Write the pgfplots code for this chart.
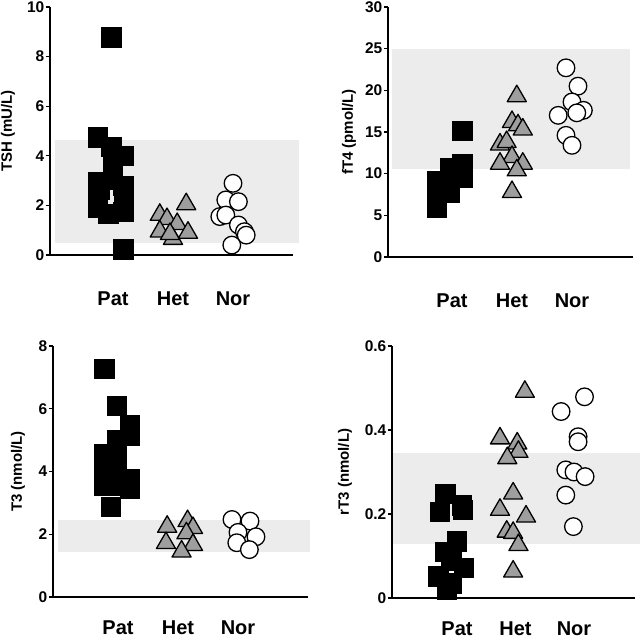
\documentclass[border=0pt]{standalone}
\usepackage{fontspec}
\setmainfont{Liberation Sans}
\usepackage{pgfplots}
\pgfplotsset{compat=1.18}
\definecolor{hetgray}{RGB}{158,158,158}
\definecolor{bandgray}{RGB}{236,236,236}
\pgfplotsset{
  panel/.style={
    scale only axis,
    axis lines=left,
    axis line style={-, line width=1.3pt},
    anchor=south west,
    clip=false,
    ymin=0,
    xtick={1,2,3},
    xticklabels={Pat,Het,Nor},
    x tick style={draw=none},
    y tick style={line width=1.2pt, black},
    tick align=outside,
    major tick length=4pt,
    /pgf/number format/assume math mode=true,
    yticklabel style={font=\bfseries\fontsize{15.5}{15.5}\selectfont, inner sep=1.5pt},
    xticklabel style={font=\bfseries\fontsize{20}{20}\selectfont, anchor=base, inner sep=0pt},
    ylabel style={font=\bfseries\fontsize{15}{15}\selectfont, anchor=center},
  },
  pat/.style={only marks, mark=square*, mark size=9.6pt, mark options={fill=black, draw=black}},
  het/.style={only marks, mark=triangle*, mark size=11pt, mark options={fill=hetgray, draw=black, line width=1.3pt, line join=round}},
  nor/.style={only marks, mark=*, mark size=8.8pt, mark options={fill=white, draw=black, line width=1.3pt}},
  band/.style={draw=none, fill=bandgray, mark=none, forget plot},
}
\begin{document}
\begin{tikzpicture}[x=1pt,y=1pt]
\useasboundingbox (0,0) rectangle (640,640);
\clip (0,0) rectangle (640,640);

% ---------------- TSH ----------------
\begin{axis}[panel,
  at={(50pt,385pt)}, width=243pt, height=248pt,
  xmin=-0.05, xmax=4.0, ymax=10,
  ytick={0,2,4,6,8,10},
  xticklabel style={yshift=-47pt},
  ylabel={TSH (mU/L)},
  ylabel style={at={([xshift=-42pt]axis description cs:0,0.5)}},
]
\addplot[band] coordinates {(0.033,0.48) (4.1,0.48) (4.1,4.62) (0.033,4.62)} -- cycle;
\addplot[pat] coordinates {
 (0.97,8.78) (0.75,4.75) (0.97,4.37) (1.17,4.0) (1.0,3.83)
 (0.75,2.96) (1.0,3.02) (1.17,2.78) (0.78,2.62) (0.75,2.3) (1.18,2.3)
 (0.75,1.9) (1.17,1.73) (0.92,1.65) (1.17,0.23)};
\addplot[het] coordinates {
 (1.78,1.62) (1.9,1.45) (2.22,2.05) (2.07,1.25) (1.78,0.95) (2.0,0.65) (2.25,0.9) (1.95,0.85)};
\addplot[nor] coordinates {
 (3.0,2.89) (2.88,2.22) (3.09,2.15) (2.78,1.55) (2.88,1.61) (3.09,1.21) (3.19,0.94) (3.22,0.8) (2.98,0.4)};
\end{axis}

% ---------------- fT4 ----------------
\begin{axis}[panel,
  at={(388pt,383pt)}, width=245pt, height=250pt,
  xmin=-0.067, xmax=4.017, ymax=30,
  ytick={0,5,10,15,20,25,30},
  xticklabel style={yshift=-47pt},
  ylabel={fT4 (pmol/L)},
  ylabel style={at={([xshift=-39pt]axis description cs:0,0.5)}},
]
\addplot[band] coordinates {(0.0,10.6) (3.97,10.6) (3.97,25) (0.0,25)} -- cycle;
\addplot[pat] coordinates {
 (0.75,9.1) (0.75,7.5) (0.75,5.9) (0.96,10.7) (0.96,9.2) (0.96,7.7)
 (1.17,11.2) (1.17,10.3) (1.17,9.5) (1.17,15.2)};
\addplot[het] coordinates {
 (2.08,19.3) (2.0,16.2) (2.1,15.8) (2.18,15.3) (1.8,13.5) (1.91,13.8)
 (2.0,12.0) (1.8,11.2) (2.18,11.2) (2.08,10.4) (2.0,7.8)};
\addplot[nor] coordinates {
 (2.9,22.7) (3.1,20.5) (3.0,18.6) (3.19,17.6) (3.08,17.3) (2.77,17.0) (2.9,14.6) (3.0,13.4)};
\end{axis}

% ---------------- T3 ----------------
\begin{axis}[panel,
  at={(53pt,43pt)}, width=255pt, height=251pt,
  xmin=-0.083, xmax=4.167, ymax=8,
  ytick={0,2,4,6,8},
  xticklabel style={yshift=-34pt},
  ylabel={T3 (nmol/L)},
  ylabel style={at={([xshift=-35pt]axis description cs:0,0.5)}},
]
\addplot[band] coordinates {(0.0,1.43) (4.2,1.43) (4.2,2.47) (0.0,2.47)} -- cycle;
\addplot[pat] coordinates {
 (0.77,7.28) (0.98,6.11) (1.2,5.5) (1.2,5.15) (0.98,5.0) (0.77,4.55)
 (0.98,4.35) (0.77,4.0) (0.98,3.9) (1.2,3.78) (0.77,3.55) (1.2,3.45) (0.98,3.55) (0.88,2.88)};
\addplot[het] coordinates {
 (1.82,2.24) (2.16,2.42) (2.25,2.2) (1.8,1.72) (2.14,2.03) (2.25,1.66) (2.06,1.45)};
\addplot[nor] coordinates {
 (2.9,2.47) (3.2,2.42) (3.0,2.06) (3.3,1.92) (2.98,1.73) (3.19,1.51)};
\end{axis}

% ---------------- rT3 ----------------
\begin{axis}[panel,
  at={(392pt,42pt)}, width=243pt, height=252pt,
  xmin=-0.111, xmax=4.043, ymax=0.6,
  ytick={0,0.2,0.4,0.6},
  yticklabels={0,0.2,0.4,0.6},
  xticklabel style={yshift=-33pt},
  ylabel={rT3 (nmol/L)},
  ylabel style={at={([xshift=-47pt]axis description cs:0,0.5)}},
]
\addplot[band] coordinates {(-0.09,0.128) (4.2,0.128) (4.2,0.345) (-0.09,0.345)} -- cycle;
\addplot[pat] coordinates {
 (0.8,0.249) (1.08,0.221) (0.71,0.205) (1.1,0.211) (1.0,0.135) (0.8,0.11)
 (1.11,0.072) (0.68,0.052) (0.91,0.035) (0.82,0.02) (0.9,0.09)};
\addplot[het] coordinates {
 (2.16,0.491) (1.735,0.38) (2.03,0.368) (2.05,0.348) (1.86,0.333) (1.96,0.249)
 (1.735,0.21) (2.18,0.194) (1.85,0.158) (1.96,0.155) (2.05,0.126) (1.96,0.063)};
\addplot[nor] coordinates {
 (3.18,0.479) (2.78,0.444) (3.07,0.384) (3.07,0.372) (2.86,0.305) (3.0,0.30)
 (3.19,0.289) (2.86,0.245) (2.99,0.17)};
\end{axis}
\end{tikzpicture}
\end{document}
